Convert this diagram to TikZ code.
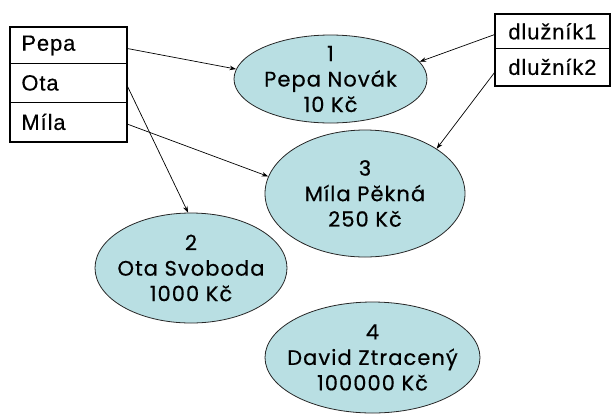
\documentclass[tikz,border=0pt]{standalone}
\usepackage{fontspec}
\setmainfont{Liberation Sans}
\newfontfamily\tabfont[LetterSpace=4,FakeBold=0.4]{Liberation Sans}
\newfontfamily\comicfont[LetterSpace=5,FakeBold=0.5]{Poppins}
\usetikzlibrary{shapes.geometric,arrows.meta}
\definecolor{ellfill}{RGB}{185,223,227}
\begin{document}
\begin{tikzpicture}[x=1pt,y=-1pt,
  ell/.style={ellipse,draw=black!85,line width=0.8pt,fill=ellfill,inner sep=0pt},
  etext/.style={align=center,font=\comicfont\fontsize{21}{25.5}\selectfont,inner sep=0pt},
  cell/.style={draw,line width=0.8pt,anchor=north west,align=left,
    font=\tabfont\fontsize{22}{24}\selectfont,inner ysep=0pt},
  lcell/.style={cell,text width=94pt,inner xsep=11pt},
  rcell/.style={cell,text width=88pt,inner xsep=13pt},
  outer/.style={draw,line width=2pt},
  arr/.style={-{Stealth[length=6.5pt,width=4.5pt]},line width=0.7pt}]
\useasboundingbox (0,0) rectangle (612,416);
% left table
\node[lcell,minimum height=36pt] (pepa) at (10,27) {Pepa};
\node[lcell,minimum height=39pt] (ota) at (10,63) {Ota};
\node[lcell,minimum height=39pt] (mila) at (10,102) {Míla};
\draw[outer] (pepa.north west) rectangle (mila.south east);
% right table
\node[rcell,minimum height=34pt] (dl1) at (495,14) {dlužník1};
\node[rcell,minimum height=37pt] (dl2) at (495,48) {dlužník2};
\draw[outer] (dl1.north west) rectangle (dl2.south east);
% ellipses
\node[ell,minimum width=193pt,minimum height=88pt] (e1) at (330.5,79) {};
\node[etext] (t1) at (e1) {1\\Pepa Novák\\10 Kč};
\node[ell,minimum width=192pt,minimum height=110pt] (e2) at (191,268) {};
\node[etext] (t2) at (e2) {2\\Ota Svoboda\\1000 Kč};
\node[ell,minimum width=200pt,minimum height=127pt] (e3) at (365,193.5) {};
\node[etext] (t3) at (e3) {3\\Míla Pěkná\\250 Kč};
\node[ell,minimum width=215pt,minimum height=111pt] (e4) at (372.5,357.5) {};
\node[etext] (t4) at (e4) {4\\David Ztracený\\100000 Kč};
% connectors
\draw[arr] ([yshift=-3pt]pepa.east) -- (e1.174);
\draw[arr] ([yshift=-2pt]ota.east) -- (e2.93);
\draw[arr] ([yshift=-2pt]mila.east) -- (e3.170);
\draw[arr] ([yshift=-3pt]dl1.west) -- (e1.11);
\draw[arr] ([yshift=-5pt]dl2.west) -- (e3.32);
\end{tikzpicture}
\end{document}
